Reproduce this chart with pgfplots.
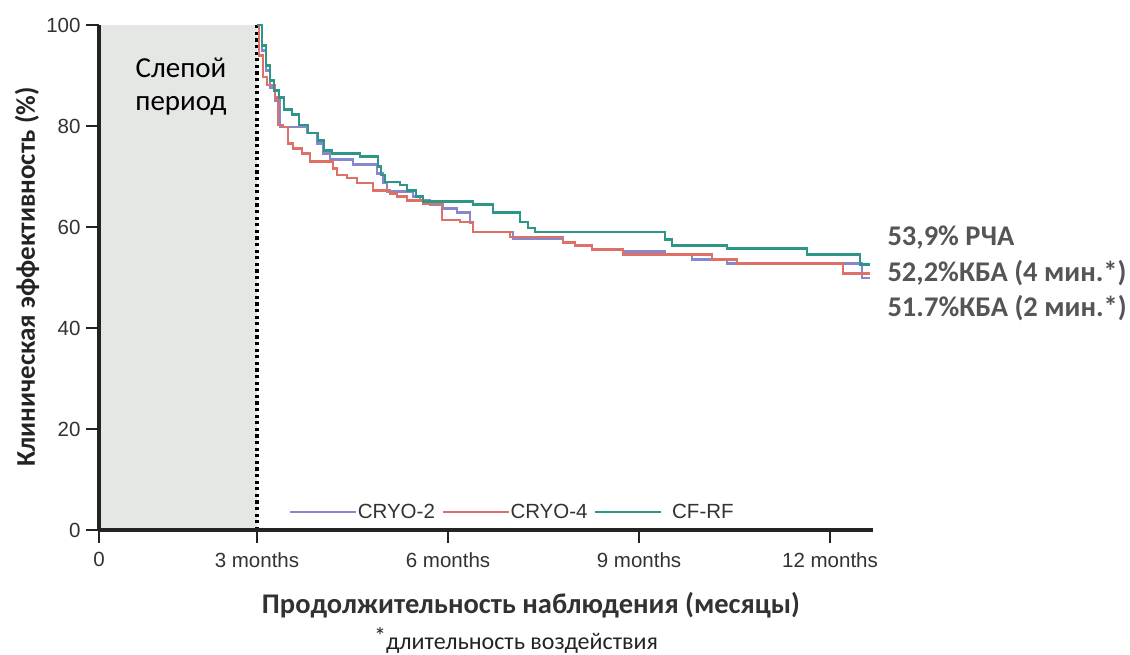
\documentclass[border=0pt]{standalone}
\usepackage{pgfplots}
\pgfplotsset{compat=1.18}
\usepackage{fontspec}
\setmainfont{Liberation Sans}
\newfontfamily\carlito{Carlito}
\definecolor{cblue}{RGB}{135,135,205}
\definecolor{cred}{RGB}{222,112,104}
\definecolor{cteal}{RGB}{45,150,135}
\definecolor{shade}{RGB}{228,231,228}
\definecolor{anno}{RGB}{85,85,85}
\definecolor{axc}{RGB}{35,35,35}
\definecolor{lbl}{RGB}{50,50,50}

\begin{document}
\begin{tikzpicture}[x=1pt,y=1pt]
\useasboundingbox (0,0) rectangle (1130,655);
\begin{axis}[
  at={(99pt,125pt)}, anchor=south west,
  scale only axis, width=774pt, height=505pt,
  xmin=0, xmax=12.675, ymin=0, ymax=100,
  x coord trafo/.code={\pgfmathparse{min(#1,3)*0.82723+max(#1-3,0)}},
  x coord inv trafo/.code={\pgfmathparse{min(#1,2.48169)/0.82723+max(#1-2.48169,0)}},
  axis x line*=bottom, axis y line*=left,
  axis line style={line width=3.2pt, color=axc},
  xtick={0,3,6,9,12},
  xticklabels={0,3 months,6 months,9 months,12 months},
  ytick={0,20,40,60,80,100},
  tick align=outside, major tick length=13pt,
  tick style={line width=2.6pt, color=axc},
  ticklabel style={font=\fontsize{20.5}{21}\selectfont, text=lbl},
  xticklabel style={yshift=-6pt},
  yticklabel style={xshift=-2pt},
  /pgf/number format/assume math mode=true,
  axis on top, clip=false,
  legend columns=3,
  legend style={at={(0.2455,0.0356)}, anchor=west, draw=none, fill=none,
    font=\fontsize{20.5}{21}\selectfont, text=lbl, inner sep=0pt,
    nodes={inner sep=1pt},
    /tikz/every even column/.append style={column sep=6pt}},
  legend image code/.code={\draw[#1, line width=1.6pt] (0pt,0pt) -- (66pt,0pt);},
]
\addplot[draw=none, fill=shade, forget plot] coordinates {(0,100) (3,100)} \closedcycle;
\addplot[black, line width=3.4pt, dash pattern=on 3.2pt off 3.4pt, forget plot] coordinates {(3,0) (3,100)};

\addplot[const plot, cblue, line width=2.8pt] coordinates {
(3.000,100) (3.079,95) (3.141,91) (3.204,87.7) (3.283,85.1) (3.361,79.8)
(3.785,78.6) (3.942,76.6) (4.037,74.6) (4.147,73.3) (4.508,72.3) (4.885,70.6)
(4.979,68.7) (5.042,67.0) (5.450,66.0) (5.560,65.3) (5.717,64.4) (5.921,63.7)
(6.141,62.8) (6.345,60.8) (6.392,59.0) (7.021,57.8) (7.806,57.0) (7.995,56.4)
(8.262,55.6) (8.748,55.2) (9.408,54.6) (9.832,53.5) (10.382,52.8) (12.502,49.9)
(12.628,49.9)};
\addlegendentry{CRYO-2}

\addplot[const plot, cred, line width=2.8pt] coordinates {
(3.000,100) (3.031,94) (3.094,89.7) (3.157,88.1) (3.283,85.7) (3.330,80.2)
(3.408,79.8) (3.487,76.6) (3.566,75.6) (3.707,74.6) (3.832,72.9) (4.194,71.6)
(4.256,70.3) (4.414,69.7) (4.571,68.7) (4.822,67.3) (5.089,66.7) (5.199,66.0)
(5.356,65.3) (5.607,64.6) (5.906,61.4) (6.188,61.0) (6.392,59.0) (6.974,58.0)
(7.806,57.0) (7.995,56.4) (8.262,55.6) (8.748,54.6) (10.146,53.6) (10.539,52.8)
(12.204,50.8) (12.628,50.8)};
\addlegendentry{CRYO-4}

\addplot[const plot, cteal, line width=2.8pt] coordinates {
(3.000,100) (3.079,96) (3.141,92) (3.204,89) (3.267,87) (3.346,85.7)
(3.424,83.2) (3.550,82.2) (3.660,80.2) (3.801,78.6) (3.958,77.2) (4.052,75.2)
(4.178,74.6) (4.618,73.9) (4.900,72.0) (4.947,70.3) (5.010,68.9) (5.246,68.3)
(5.356,67.3) (5.497,66.0) (5.607,65.0) (6.392,64.4) (6.707,62.8) (7.131,61.0)
(7.256,59.8) (7.366,59.0) (9.408,57.5) (9.518,56.4) (10.382,55.8) (11.638,54.5)
(12.470,52.5) (12.628,52.5)};
\addlegendentry{\hspace{9pt}CF-RF}
\end{axis}

\node[align=center, font=\carlito\fontsize{29}{33}\selectfont, text=black] at (181,568) {Слепой\\период};
\node[rotate=90, font=\carlito\bfseries\fontsize{27}{27}\selectfont, text=axc] at (27,378) {Клиническая эффективность (\%)};
\node[font=\carlito\bfseries\fontsize{28.5}{28.5}\selectfont, text=lbl] at (531,50) {Продолжительность наблюдения (месяцы)};
\node[font=\carlito\fontsize{24}{24}\selectfont, text=axc, inner sep=1pt] at (516,15) {\raisebox{5pt}{*}длительность воздействия};
\node[anchor=west, font=\carlito\bfseries\fontsize{28.5}{28.5}\selectfont, text=anno] at (884,417) {53,9\% РЧА};
\node[anchor=west, font=\carlito\bfseries\fontsize{28.5}{28.5}\selectfont, text=anno] at (884,382) {52,2\%КБА (4 мин.*)};
\node[anchor=west, font=\carlito\bfseries\fontsize{28.5}{28.5}\selectfont, text=anno] at (884,347) {51.7\%КБА (2 мин.*)};
\end{tikzpicture}
\end{document}
